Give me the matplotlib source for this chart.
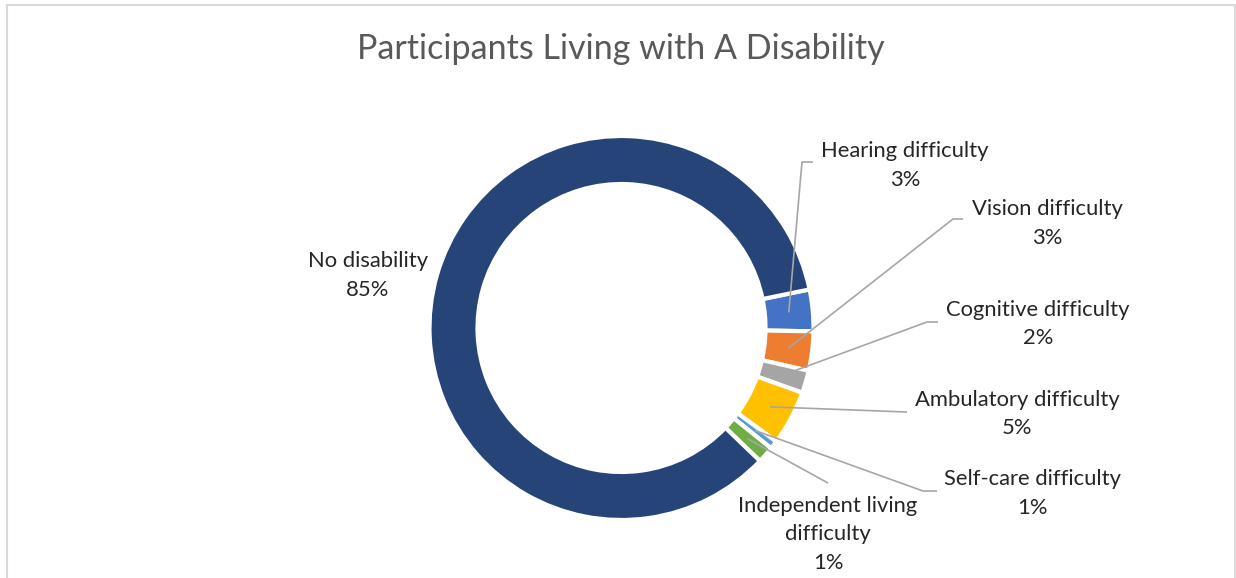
import numpy as np
import matplotlib
matplotlib.use("Agg")
import matplotlib.pyplot as plt
from matplotlib.lines import Line2D

plt.rcParams['font.family'] = ['Lato', 'DejaVu Sans']

categories = ["Hearing difficulty", "Vision difficulty", "Cognitive difficulty",
              "Ambulatory difficulty", "Self-care difficulty",
              "Independent living difficulty", "No disability"]
shares = [3.5, 3.3, 1.9, 4.6, 0.7, 1.4, 84.6]
shown_pct = ["3%", "3%", "2%", "5%", "1%", "1%", "85%"]
colors = ["#4472C4", "#ED7D31", "#A5A5A5", "#FFC000", "#5B9BD5", "#70AD47", "#264478"]

W, H = 1236, 578
fig = plt.figure(figsize=(W / 100, H / 100), dpi=100)
ax = fig.add_axes([0, 0, 1, 1])


def Y(y):
    # pixel row -> data y
    return H - y


cx, cy = 621.5, Y(328)
R = 192
ring = 48

wedges, _ = ax.pie(shares, colors=colors, startangle=11.6, counterclock=False,
                   center=(cx, cy), radius=R,
                   wedgeprops=dict(width=ring, edgecolor="white", linewidth=3))

ax.set_xlim(0, W)
ax.set_ylim(0, H)
ax.set_aspect("auto")
ax.axis("off")

# label layout: line texts (x centre, first baseline row), leader path after the anchor
label_lines = [
    ["Hearing difficulty"], ["Vision difficulty"], ["Cognitive difficulty"],
    ["Ambulatory difficulty"], ["Self-care difficulty"],
    ["Independent living", "difficulty"], ["No disability"],
]
label_pos = [(905, 157), (1047, 215), (1038, 316), (1017, 406),
             (1032, 485), (828, 512), (368, 267)]
leader_path = [
    [(802, 162), (813, 162)],
    [(953, 219), (963, 219)],
    [(927, 322), (938, 322)],
    [(907, 412)],
    [(923, 491), (937, 491)],
    [(828, 483)],
    None,
]

line_gap = 28.5
r_mid = R - ring / 2
for i, w in enumerate(wedges):
    x0, y0 = label_pos[i]
    lines = label_lines[i] + [shown_pct[i]]
    for k, t in enumerate(lines):
        ax.text(x0, Y(y0 + k * line_gap), t, ha="center", va="baseline",
                fontsize=15.8, color="#262626")
    if leader_path[i] is None:
        continue
    mid = np.deg2rad((w.theta1 + w.theta2) / 2)
    xs = [cx + r_mid * np.cos(mid)] + [p[0] for p in leader_path[i]]
    ys = [cy + r_mid * np.sin(mid)] + [Y(p[1]) for p in leader_path[i]]
    ax.plot(xs, ys, color="#A6A6A6", lw=1.2, zorder=5, solid_capstyle="butt")

ax.text(621, Y(59), "Participants Living with A Disability", ha="center",
        va="baseline", fontsize=24.5, color="#595959")

# chart frame
frame = "#D9D9D9"
fig.add_artist(Line2D([6.5 / W, 6.5 / W], [0, Y(5) / H], color=frame, lw=1.5))
fig.add_artist(Line2D([6.5 / W, 1235 / W], [Y(5) / H, Y(5) / H], color=frame, lw=1.5))
fig.add_artist(Line2D([1235 / W, 1235 / W], [0, Y(5) / H], color=frame, lw=1.5))

fig.savefig("out.png", dpi=100)
